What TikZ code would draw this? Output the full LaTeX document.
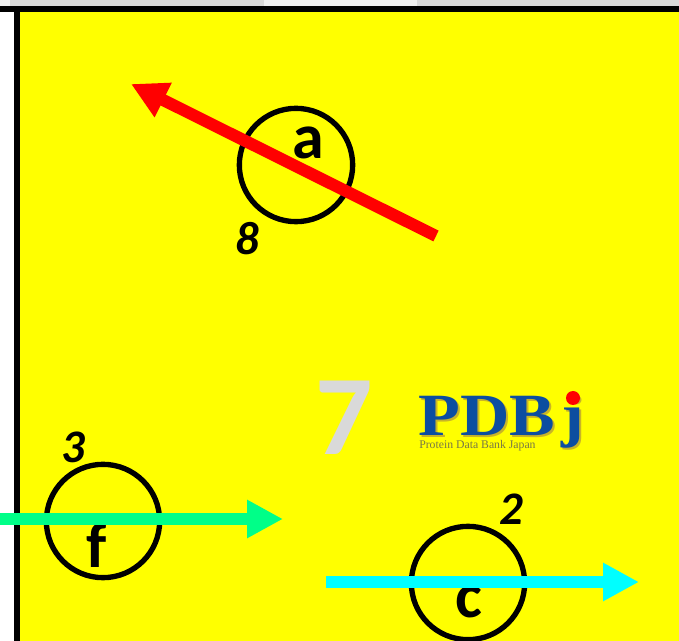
\documentclass[tikz,border=0pt]{standalone}
\usepackage{fontspec}
\setmainfont{Carlito}
\newfontfamily\logofont{Liberation Serif}
\usepackage{tikz}
\usetikzlibrary{arrows.meta, positioning}
\definecolor{panelYellow}{RGB}{255, 255, 0}
\definecolor{tabGray}{RGB}{217, 217, 217}
\definecolor{tabLight}{RGB}{240, 240, 240}
\definecolor{arrowGreen}{RGB}{0, 255, 136}
\definecolor{arrowCyan}{RGB}{0, 255, 255}
\definecolor{logoBlue}{RGB}{12, 78, 160}
\definecolor{logoShadow}{RGB}{200, 180, 40}
\definecolor{logoText}{RGB}{120, 120, 70}

\begin{document}
\begin{tikzpicture}[
  x=0.75pt, y=-0.75pt,
  atom/.style={circle, draw=black, line width=4pt, minimum size=85pt, inner sep=0pt},
  letter/.style={font=\fontsize{48}{48}\selectfont\bfseries, inner sep=0pt},
  count/.style={font=\fontsize{35}{35}\selectfont\bfseries\itshape, inner sep=0pt},
  vector/.style={-{Triangle[length=27pt, width=27pt]}},
  logo/.style={font=\logofont\fontsize{45}{45}\selectfont\bfseries, inner sep=0pt, xscale=1.14}
]
  \useasboundingbox (0,0) rectangle (679,641);
  \fill[white] (0,0) rectangle (679,641);

  % Top strip
  \fill[tabLight] (0,0) rectangle (10,6);
  \fill[tabGray] (10,0) rectangle (264,6);
  \fill[tabLight] (264,0) rectangle (417,6);
  \fill[tabGray] (417,0) rectangle (679,6);

  % Panel
  \fill[panelYellow] (20,12) rectangle (679,641);
  \fill[black] (0,6) rectangle (679,12);
  \fill[black] (14,12) rectangle (20,641);

  % Circles
  \node[atom] (a) at (296,165) {};
  \node[atom] (f) at (103,521) {};
  \node[atom] (c) at (468,583) {};

  % Letters and counts
  \node[letter] (la) at (308,143) {a};
  \node[letter] (lf) at (97,545) {f};
  \node[letter] (lc) at (469,602) {c};
  \node[count] (na) at (247,239) {8};
  \node[count] (nf) at (73,447) {3};
  \node[count] (nc) at (511,509) {2};

  % Arrows
  \coordinate (redstart) at (436,236);
  \coordinate (redtip) at (131,84);
  \coordinate (greenstart) at (0,519);
  \coordinate (greentip) at (283,519);
  \coordinate (cyanstart) at (326,582);
  \coordinate (cyantip) at (639,582);
  \draw[vector, red, line width=9pt] (redstart) -- (redtip);
  \draw[vector, arrowGreen, line width=9pt] (greenstart) -- (greentip);
  \draw[vector, arrowCyan, line width=9pt] (cyanstart) -- (cyantip);

  % Big number
  \node[font=\fontsize{85}{85}\selectfont\bfseries, text=tabGray, inner sep=0pt] (seven) at (344,418) {7};

  % Logo
  \node[logo, text=logoShadow, anchor=base west] (pdbshadow) at (420,438) {PDB\kern4pt j};
  \node[logo, text=logoBlue, anchor=base west] (pdb) at (418,436) {PDB\kern4pt j};
  \fill[red] (573,398) circle (7);
  \node[font=\logofont\fontsize{8.8}{8.8}\selectfont, text=logoText, inner sep=0pt, anchor=west] (pdbname) at (419,446) {Protein Data Bank Japan};
\end{tikzpicture}
\end{document}
